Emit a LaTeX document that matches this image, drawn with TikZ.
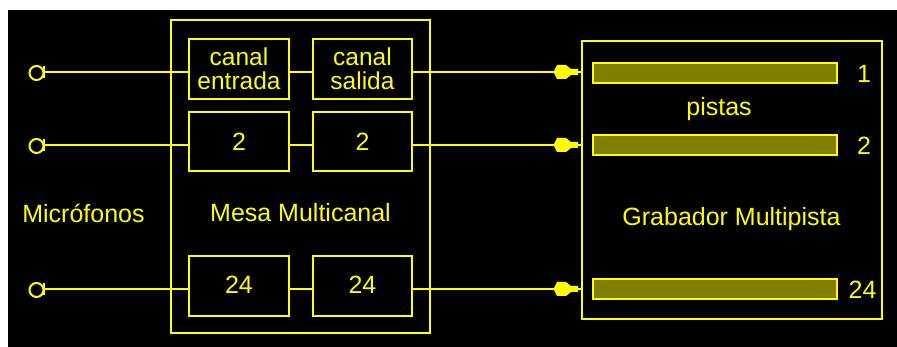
\documentclass[tikz,border=0pt]{standalone}
\usepackage{fontspec}
\setmainfont{Liberation Sans}
\definecolor{ylw}{RGB}{255,255,0}
\definecolor{olv}{RGB}{128,128,0}
\begin{document}
\begin{tikzpicture}[x=1pt,y=-1pt,line width=2pt,
  big/.style={draw=ylw,inner sep=0pt,line width=2pt},
  chan/.style={draw=ylw,inner sep=0pt,text=ylw,align=center,font=\fontsize{25}{24}\selectfont},
  track/.style={draw=ylw,fill=olv,inner sep=0pt,minimum width=244pt,minimum height=20pt},
  lbl/.style={text=ylw,inner sep=0pt,font=\fontsize{25}{25}\selectfont},
  wire/.style={draw=ylw,line width=2pt},
  plug/.pic={\fill[ylw] (-27,-1) -- (-24,-7) -- (-15,-7) -- (-10,-3) -- (-3,-3) -- (-3,3) -- (-10,3) -- (-15,7) -- (-24,7) -- (-27,1) -- cycle;},
  mic/.pic={\draw[ylw,line width=2pt] (-7.5,1) circle[radius=7]; \draw[ylw,line width=2pt] (0,-6) -- (0,6);}
]
\useasboundingbox (0,0) rectangle (897,347);
\fill[white] (0,0) rectangle (897,347);
\fill[black] (8,10) rectangle (897,347);

% big boxes
\node[big,minimum width=259pt,minimum height=313pt] (mesa) at (300.5,176.5) {};
\node[big,minimum width=300pt,minimum height=278pt] (rec) at (732,180) {};

% channel boxes
\node[chan,minimum width=100pt,minimum height=60pt,font=\fontsize{24.5}{24}\selectfont] (b11) at (239,69) {canal\\entrada};
\node[chan,minimum width=99pt,minimum height=60pt,font=\fontsize{24.5}{24}\selectfont] (b12) at (362.5,69) {canal\\salida};
\node[chan,minimum width=100pt,minimum height=59pt] (b21) at (239,141.5) {2};
\node[chan,minimum width=99pt,minimum height=59pt] (b22) at (362.5,141.5) {2};
\node[chan,minimum width=100pt,minimum height=60pt] (b31) at (239,286) {\raisebox{3pt}{24}};
\node[chan,minimum width=99pt,minimum height=60pt] (b32) at (362.5,286) {\raisebox{3pt}{24}};

% tracks
\node[track] (t1) at (715,73) {};
\node[track] (t2) at (715,145.5) {};
\node[track] (t3) at (715,289.5) {};

% microphone coordinates
\coordinate (m1) at (44,72);
\coordinate (m2) at (44,145);
\coordinate (m3) at (44,289);
\pic at (m1) {mic};
\pic at (m2) {mic};
\pic at (m3) {mic};

% wires
\foreach \r in {1,2,3}{
  \draw[wire] (m\r) -- (m\r -| b\r1.west);
  \draw[wire] (m\r -| b\r1.east) -- (m\r -| b\r2.west);
  \draw[wire] (m\r -| b\r2.east) -- (m\r -| rec.west);
  \pic at (m\r -| rec.west) {plug};
}

% labels
\node[lbl,anchor=base] (lmic) at (83.5,223) {Micrófonos};
\node[lbl,anchor=base] (lmesa) at (300.5,222) {Mesa Multicanal};
\node[lbl,anchor=base] (lrec) at (731.5,226) {Grabador Multipista};
\node[lbl,anchor=base] (lpis) at (719,116) {pistas};
\node[lbl] (n1) at (864,74) {1};
\node[lbl] (n2) at (864,146) {2};
\node[lbl] (n3) at (862.5,290) {24};
\end{tikzpicture}
\end{document}
